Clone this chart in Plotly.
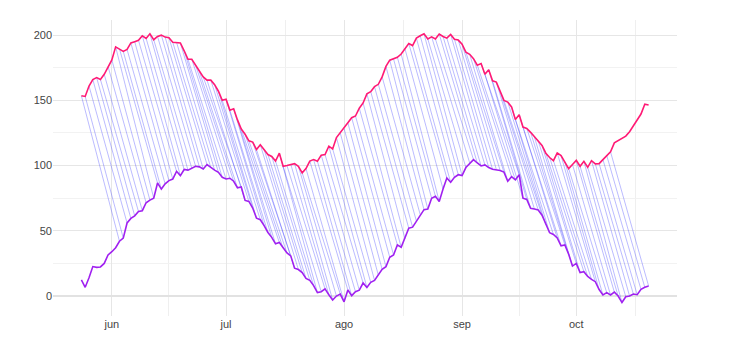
import plotly.graph_objects as go
import pandas as pd

start_date = "2023-05-24"
n_days = 150
lag_days = 10

upper = [153.5, 153, 161, 166, 167.5, 166, 170, 176, 181, 191,
         189.5, 187.5, 189, 194, 195, 196, 199.5, 197.5, 201, 196.5,
         199, 200, 198.5, 198, 194.5, 194.5, 194, 188, 181.5, 181.5,
         177, 172, 168, 165.5, 165.5, 162, 157, 150, 150.8, 142.5,
         143.5, 135, 128, 124, 119, 118, 112.3, 116, 112.3, 108.5,
         107, 103.5, 109.5, 99.5, 100, 101, 101.5, 99.5, 94.4, 97.7,
         103.5, 104.6, 103.3, 108, 108.5, 114.9, 112.8, 121.5, 125, 128.5,
         132.8, 136.7, 138, 144, 148, 155, 156.7, 160.5, 162.3, 168,
         176, 180.8, 181.7, 183, 185.5, 189.5, 193.6, 192, 197.7, 199.5,
         201, 197, 198.7, 197, 200.8, 199, 197.7, 200.5, 196.8, 196.2,
         193, 187, 185.3, 182, 177, 178.2, 170, 173.5, 165, 164,
         157, 150, 148.7, 145, 135.4, 139, 129.5, 128.5, 125.5, 122,
         119, 115.5, 109.5, 106.2, 103.8, 109.7, 107.7, 102.8, 97.7, 100.8,
         104, 99.5, 103.3, 98.7, 103.8, 101.3, 101.5, 104.6, 107.7, 110.5,
         117.4, 119, 121, 122.6, 126, 130.5, 134, 139.5, 147, 146.4]

lower = [12.3, 6.7, 14, 22.6, 22, 22.3, 25, 31.5, 34, 37,
         42, 44.4, 56, 59.5, 61.5, 64.8, 65.4, 71.5, 73.5, 75,
         86.7, 82, 86, 88.5, 89.7, 95.6, 92.3, 97, 96.5, 98,
         99.5, 99, 97.4, 100.8, 98.5, 96.5, 94.8, 91, 89.7, 90.3,
         88, 83, 83.6, 73.3, 72.5, 67.5, 59.7, 58.5, 54, 48.7,
         45, 40, 41, 36.5, 33, 30.8, 21.3, 20.3, 18, 13.5,
         12, 8, 2.6, 3.3, 5.5, 1, -3, 0, 1.5, -4.4,
         4.6, 0.3, 3.3, 4.5, 10, 6.5, 10.5, 12, 16, 20.5,
         22.5, 29.7, 31.5, 39.2, 37.4, 44, 52, 52.8, 57.5, 62.5,
         66.2, 66.7, 75, 76.5, 72.5, 82, 90.5, 87.2, 91, 93,
         92.3, 98.5, 102, 104.6, 102, 99.7, 100.5, 98.5, 97.2, 97,
         96.3, 95, 88, 91.5, 89, 93, 75, 74, 67.3, 66.7,
         66, 62, 54.6, 48.5, 47.2, 44.5, 38.5, 39.2, 32, 23,
         25, 18, 18.7, 15, 12.8, 11, 5, 0.8, 2.6, 0.8,
         3, 0, -5, -0.5, 0, 1.5, 1, 5.1, 6.7, 7.7]

month_ticks = ["2023-06-01", "2023-07-01", "2023-08-01", "2023-09-01", "2023-10-01"]
month_labels = ["jun", "jul", "ago", "sep", "oct"]
mid_ticks = ["2023-05-16 12:00", "2023-06-16 00:00", "2023-07-16 12:00",
             "2023-08-16 12:00", "2023-09-16 00:00", "2023-10-16 12:00"]

dates = pd.date_range(start_date, periods=n_days, freq="D")

# connectors: upper[i] -> lower[i + lag]
cx, cy = [], []
for i in range(n_days - lag_days):
    cx += [dates[i], dates[i + lag_days], None]
    cy += [upper[i], lower[i + lag_days], None]

fig = go.Figure()
fig.add_trace(go.Scatter(x=cx, y=cy, mode="lines",
                         line=dict(color="rgba(40,40,255,0.4)", width=0.8),
                         hoverinfo="skip", showlegend=False))
fig.add_trace(go.Scatter(x=dates, y=upper, mode="lines",
                         line=dict(color="#ff1a75", width=1.6), showlegend=False))
fig.add_trace(go.Scatter(x=dates, y=lower, mode="lines",
                         line=dict(color="#a020f0", width=1.6), showlegend=False))

fig.update_layout(
    width=720, height=344,
    margin=dict(l=45, r=51, t=12, b=36),
    plot_bgcolor="white", paper_bgcolor="white",
    font=dict(family="Liberation Sans, Arial, sans-serif", size=11, color="#444"),
    showlegend=False,
)
fig.update_xaxes(
    range=["2023-05-16 13:00", "2023-10-27 11:00"],
    tickmode="array", tickvals=month_ticks, ticktext=month_labels,
    showgrid=True, gridcolor="#e6e6e6", gridwidth=1,
    zeroline=False, showline=False, ticks="",
    tickfont=dict(color="#444"),
    minor=dict(tickmode="array", tickvals=mid_ticks, showgrid=True,
               gridcolor="#efefef", gridwidth=1),
)
fig.update_yaxes(
    range=[-15.3, 211.6],
    tickmode="linear", tick0=0, dtick=50,
    showgrid=True, gridcolor="#e6e6e6", gridwidth=1,
    zeroline=True, zerolinecolor="#e2e2e2", zerolinewidth=2,
    showline=False, ticks="",
    tickfont=dict(color="#444"),
    minor=dict(tick0=0, dtick=25, showgrid=True, gridcolor="#f2f2f2", gridwidth=1),
)

fig.write_html("out.html")
